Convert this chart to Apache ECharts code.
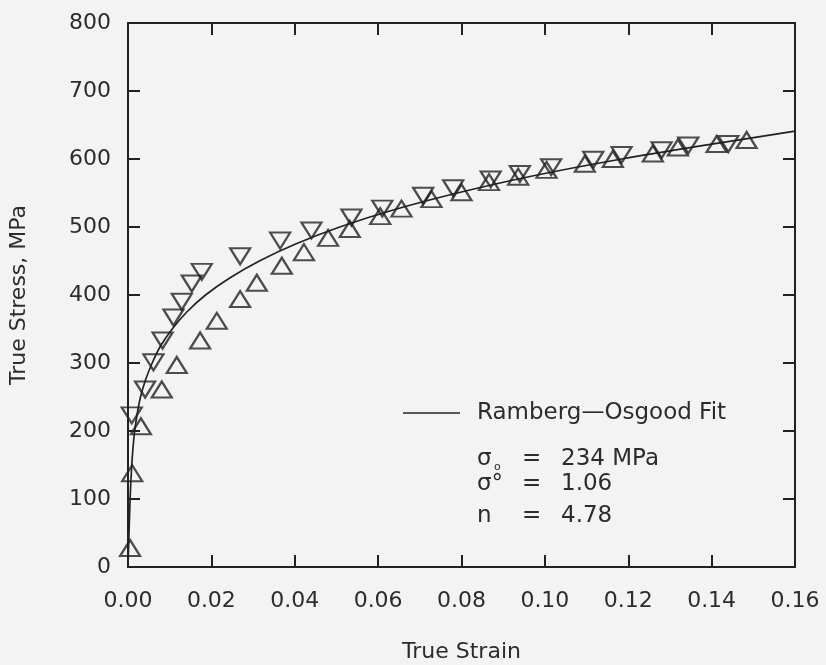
<!DOCTYPE html>
<html>
<head>
<meta charset="utf-8">
<script src="https://cdn.jsdelivr.net/npm/echarts@6/dist/echarts.min.js"></script>
<style>
html,body{margin:0;padding:0;background:#f3f3f3;}
#chart{width:826px;height:665px;}
</style>
</head>
<body>
<div id="chart"></div>
<script>
// Up-triangle (△) test data: [true strain, true stress MPa]
var upData = [
  [0.0005, 28], [0.0010, 138], [0.0031, 207], [0.0081, 261], [0.0117, 297],
  [0.0173, 333], [0.0213, 362], [0.0269, 394], [0.0309, 418], [0.0369, 443],
  [0.0422, 463], [0.0480, 484], [0.0532, 497], [0.0605, 516], [0.0656, 527],
  [0.0728, 541], [0.0800, 551], [0.0866, 566], [0.0936, 574], [0.1004, 584],
  [0.1096, 593], [0.1163, 600], [0.1259, 608], [0.1319, 617], [0.1412, 622],
  [0.1484, 628]
];
// Down-triangle (▽) test data
var downData = [
  [0.0009, 223], [0.0041, 261], [0.0061, 301], [0.0083, 333], [0.0109, 367],
  [0.0129, 390], [0.0153, 417], [0.0177, 434], [0.0269, 457], [0.0365, 480],
  [0.0440, 495], [0.0536, 514], [0.0610, 527], [0.0708, 546], [0.0780, 557],
  [0.0870, 570], [0.0940, 578], [0.1015, 588], [0.1116, 599], [0.1184, 606],
  [0.1280, 613], [0.1344, 620], [0.1440, 622]
];
// Ramberg-Osgood fit curve
var fitData = [
  [0, 0], [0.0005, 100], [0.0009, 150], [0.0012, 175], [0.0016, 200],
  [0.0022, 225], [0.0030, 250], [0.0042, 275], [0.0058, 300], [0.0078, 325],
  [0.0106, 350], [0.0141, 375], [0.0186, 400], [0.0244, 425], [0.0315, 450],
  [0.0402, 475], [0.0508, 500], [0.0636, 525], [0.0790, 550], [0.0970, 575],
  [0.1184, 600], [0.1381, 620], [0.1600, 641]
];
var xTicks = ['0.00','0.02','0.04','0.06','0.08','0.10','0.12','0.14','0.16'];
var fitName = 'Ramberg\u2014Osgood Fit';
var paramSymbols = ['\u03c3', '\u03c3\u00b0', 'n'];
var paramValues = ['234 MPa', '1.06', '4.78'];

var ink = '#222222';
var txt = '#2c2c2c';
var font = 'DejaVu Sans';

var chart = echarts.init(document.getElementById('chart'), null, {renderer: 'canvas'});

function xAxisCfg(pos, showLabel) {
  return {
    type: 'value', position: pos, min: 0, max: 0.16, interval: 0.02,
    axisLine: {show: true, onZero: false, lineStyle: {color: ink, width: 2}},
    axisTick: {show: true, inside: true, length: 12, lineStyle: {color: ink, width: 2}},
    splitLine: {show: false},
    axisLabel: {show: showLabel, margin: 23, color: txt, fontSize: 22, fontFamily: font,
      formatter: function (v) { return xTicks[Math.round(v / 0.02)]; }},
    name: showLabel ? 'True Strain' : '', nameLocation: 'middle', nameGap: 74,
    nameTextStyle: {color: txt, fontSize: 22, fontFamily: font}
  };
}
function yAxisCfg(pos, showLabel) {
  return {
    type: 'value', position: pos, min: 0, max: 800, interval: 100,
    axisLine: {show: true, onZero: false, lineStyle: {color: ink, width: 2}},
    axisTick: {show: true, inside: true, length: 12, lineStyle: {color: ink, width: 2}},
    splitLine: {show: false},
    axisLabel: {show: showLabel, margin: 17, color: txt, fontSize: 22, fontFamily: font},
    name: showLabel ? 'True Stress, MPa' : '', nameLocation: 'middle', nameGap: 98,
    nameTextStyle: {color: txt, fontSize: 22, fontFamily: font}
  };
}

var graphics = [
  {type: 'line', shape: {x1: 403, y1: 413, x2: 460, y2: 413}, style: {stroke: ink, lineWidth: 1.6}},
  {type: 'text', x: 477, y: 413, style: {text: fitName, fill: txt, fontSize: 23, fontFamily: font, verticalAlign: 'middle'}}
];
var rowY = [459, 484, 516];
for (var i = 0; i < 3; i++) {
  graphics.push({type: 'text', x: 477, y: rowY[i], style: {text: paramSymbols[i], fill: txt, fontSize: 23, fontFamily: font, verticalAlign: 'middle'}});
  graphics.push({type: 'text', x: 522, y: rowY[i], style: {text: '=', fill: txt, fontSize: 23, fontFamily: font, verticalAlign: 'middle'}});
  graphics.push({type: 'text', x: 561, y: rowY[i], style: {text: paramValues[i], fill: txt, fontSize: 23, fontFamily: font, verticalAlign: 'middle'}});
}
graphics.push({type: 'text', x: 494, y: 467, style: {text: 'o', fill: txt, fontSize: 11, fontFamily: font, verticalAlign: 'middle'}});

chart.setOption({
  backgroundColor: '#f3f3f3',
  animation: false,
  grid: {left: 128, right: 31, top: 23, bottom: 98, containLabel: false, outerBoundsMode: 'none'},
  xAxis: [xAxisCfg('bottom', true), xAxisCfg('top', false)],
  yAxis: [yAxisCfg('left', true), yAxisCfg('right', false)],
  graphic: graphics,
  series: [
    {
      name: fitName, type: 'line', data: fitData, xAxisIndex: 0, yAxisIndex: 0,
      showSymbol: false, smooth: 0.25,
      lineStyle: {color: ink, width: 1.7}, z: 3
    },
    {
      name: 'up', type: 'scatter', data: upData, symbol: 'triangle', symbolSize: [20, 16],
      itemStyle: {color: 'rgba(0,0,0,0)', borderColor: ink, borderWidth: 2.2}, z: 4
    },
    {
      name: 'down', type: 'scatter', data: downData, symbol: 'triangle', symbolSize: [20, 16],
      symbolRotate: 180,
      itemStyle: {color: 'rgba(0,0,0,0)', borderColor: ink, borderWidth: 2.2}, z: 4
    }
  ]
});
</script>
</body>
</html>
